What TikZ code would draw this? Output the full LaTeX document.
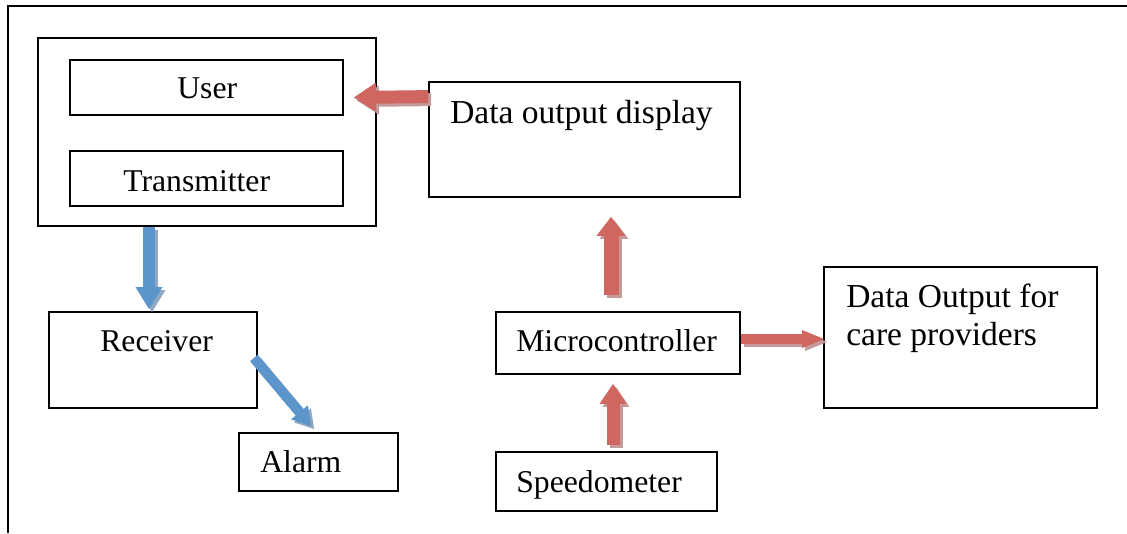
\documentclass[tikz,border=0pt]{standalone}
\usepackage{fontspec}
\setmainfont{Liberation Serif}
\usetikzlibrary{arrows.meta}

\definecolor{arrred}{RGB}{207,102,95}
\definecolor{arrredsh}{RGB}{196,154,154}
\definecolor{arrblue}{RGB}{92,149,203}
\definecolor{arrbluesh}{RGB}{146,168,194}

\newcommand{\tnr}{\fontsize{31.7}{38}\selectfont}
\newcommand{\cmb}{\fontsize{33.5}{38}\selectfont}

% block arrow with a drop shadow: colour, shaft, tip, from, to
\newcommand{\BlockArrow}[5]{%
	\draw[#1sh,line width=#2,-{Triangle[#3,line width=0pt]},
		transform canvas={shift={(3pt,-3pt)}}] #4 -- #5;
	\draw[#1,line width=#2,-{Triangle[#3,line width=0pt]}] #4 -- #5;}

\tikzset{
	box/.style={draw,line width=1.8pt,inner sep=0},
	txt/.style={inner sep=0,anchor=base west,font=\tnr},
}

\begin{document}
\begin{tikzpicture}[x=1pt,y=-1pt]
\useasboundingbox (0,0) rectangle (1127,533);
\draw[line width=1.8pt] (8,533) -- (8,6) -- (1127,6);

\node[box,minimum width=338pt,minimum height=188pt] (grp) at (207,132) {};
\node[box,minimum width=273pt,minimum height=55pt] (user) at (206.5,87.5) {};
\node[box,minimum width=273pt,minimum height=55pt] (trans) at (206.5,178.5) {};
\node[box,minimum width=311pt,minimum height=115pt] (disp) at (584.5,139.5) {};
\node[box,minimum width=208pt,minimum height=96pt] (recv) at (153,360) {};
\node[box,minimum width=159pt,minimum height=58pt] (alarm) at (318.5,462) {};
\node[box,minimum width=244pt,minimum height=62pt] (micro) at (618,343) {};
\node[box,minimum width=221pt,minimum height=59pt] (speedo) at (606.5,481.5) {};
\node[box,minimum width=273pt,minimum height=141pt] (care) at (960.5,337.5) {};

\node[txt] (usertxt) at ([shift={(108pt,-39pt)}]user.north west) {User};
\node[txt] (transtxt) at ([shift={(54pt,-41pt)}]trans.north west) {Transmitter};
\node[txt,font=\cmb] (disptxt) at ([shift={(22pt,-42pt)}]disp.north west) {Data output display};
\node[txt] (recvtxt) at ([shift={(52pt,-40pt)}]recv.north west) {Receiver};
\node[txt] (alarmtxt) at ([shift={(22pt,-40pt)}]alarm.north west) {Alarm};
\node[txt] (microtxt) at ([shift={(21pt,-40pt)}]micro.north west) {Microcontroller};
\node[txt] (speedotxt) at ([shift={(21pt,-41pt)}]speedo.north west) {Speedometer};
\node[txt,font=\cmb,align=left] (caretxt) at ([shift={(23pt,-79pt)}]care.north west) {Data Output for\\care providers};

\BlockArrow{arrred}{13pt}{length=22pt,width=29pt}
	{([yshift=-15.5pt]disp.north west)}{([shift={(10pt,-10pt)}]user.east)}
\BlockArrow{arrblue}{12pt}{length=22pt,width=27pt}
	{([xshift=-58pt]grp.south)}{([shift={(-4pt,2pt)}]recv.north)}
\BlockArrow{arrblue}{10pt}{length=18pt,width=22pt}
	{([shift={(-4pt,2pt)}]recv.east)}{([shift={(73pt,6pt)}]alarm.north west)}
\BlockArrow{arrred}{13pt}{length=20pt,width=27pt}
	{([shift={(6.5pt,6pt)}]speedo.north)}{([shift={(-5pt,-9pt)}]micro.south)}
\BlockArrow{arrred}{15pt}{length=19pt,width=29pt}
	{([shift={(-7pt,16pt)}]micro.north)}{([shift={(26.5pt,-19pt)}]disp.south)}
\BlockArrow{arrred}{10pt}{length=22pt,width=18pt}
	{([yshift=4pt]micro.east)}{([shift={(1pt,-1.5pt)}]care.west)}
\end{tikzpicture}
\end{document}
